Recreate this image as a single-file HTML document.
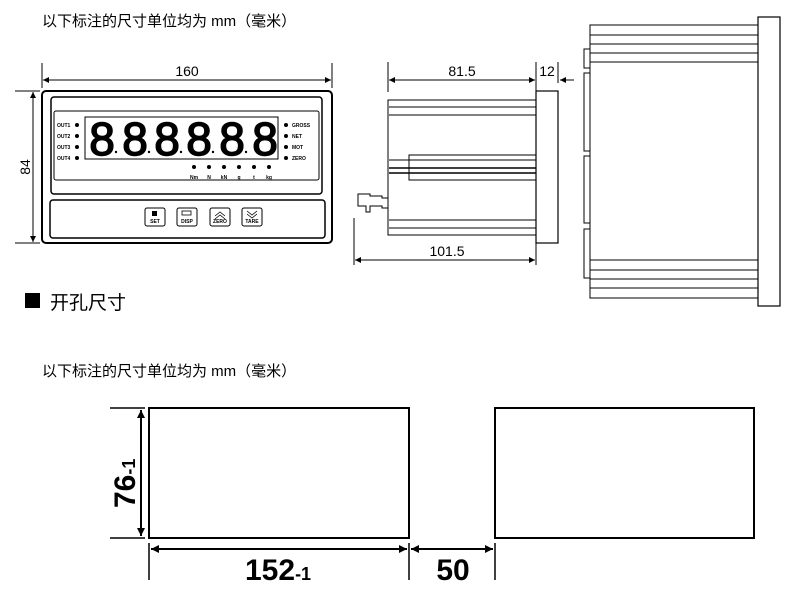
<!DOCTYPE html>
<html><head><meta charset="utf-8"><style>
html,body{margin:0;padding:0;background:#fff;}
svg{display:block;}
.t{font-family:"Liberation Sans","Noto Sans CJK SC",sans-serif;}
</style></head><body>
<svg width="800" height="594" viewBox="0 0 800 594" xmlns="http://www.w3.org/2000/svg">
<defs>
<marker id="a" viewBox="0 0 10 10" refX="10" refY="5" markerWidth="10" markerHeight="6" orient="auto-start-reverse" markerUnits="userSpaceOnUse"><path d="M0,0 L10,5 L0,10 z" fill="#000"/></marker>
<marker id="b" viewBox="0 0 10 10" refX="10" refY="5" markerWidth="14" markerHeight="8" orient="auto-start-reverse" markerUnits="userSpaceOnUse"><path d="M0,0 L10,5 L0,10 z" fill="#000"/></marker>
</defs>
<g class="t" fill="#000">
<text x="42" y="26" font-size="15">以下标注的尺寸单位均为 mm（毫米）</text>
<text x="42" y="376" font-size="15">以下标注的尺寸单位均为 mm（毫米）</text>
<rect x="25" y="293" width="15" height="15"/>
<text x="50" y="309" font-size="19">开孔尺寸</text>
</g>
<g stroke="#000" fill="none" stroke-width="1">
<line x1="42" y1="63" x2="42" y2="88"/><line x1="332" y1="63" x2="332" y2="88"/>
<line x1="43" y1="80" x2="331" y2="80" marker-start="url(#a)" marker-end="url(#a)"/>
<line x1="15" y1="91" x2="40" y2="91"/><line x1="15" y1="243" x2="40" y2="243"/>
<line x1="33" y1="92" x2="33" y2="242" marker-start="url(#a)" marker-end="url(#a)"/>
<rect x="42" y="91" width="290" height="152" rx="4" stroke-width="2"/>
<rect x="51" y="97" width="271" height="97" rx="3" stroke-width="1.5"/>
<rect x="54" y="111" width="265" height="69" rx="2"/>
<rect x="85" y="117" width="193" height="42"/>
<rect x="50" y="200" width="275" height="38" rx="3" stroke-width="1.5"/>
<rect x="145" y="208" width="20" height="18" rx="2"/>
<rect x="177" y="208" width="20" height="18" rx="2"/>
<rect x="210" y="208" width="20" height="18" rx="2"/>
<rect x="242" y="208" width="20" height="18" rx="2"/>
</g>
<g class="t" fill="#000">
<text x="187" y="76" font-size="14" text-anchor="middle">160</text>
<text x="30" y="167" font-size="14" text-anchor="middle" transform="rotate(-90 30 167)">84</text>
<g font-size="5" font-weight="bold">
<text x="57" y="127">OUT1</text><text x="57" y="138">OUT2</text><text x="57" y="149">OUT3</text><text x="57" y="160">OUT4</text>
<text x="292" y="127">GROSS</text><text x="292" y="138">NET</text><text x="292" y="149">MOT</text><text x="292" y="160">ZERO</text>
</g>
<circle cx="77" cy="125" r="2"/><circle cx="77" cy="136" r="2"/><circle cx="77" cy="147" r="2"/><circle cx="77" cy="158" r="2"/>
<circle cx="286" cy="125" r="2"/><circle cx="286" cy="136" r="2"/><circle cx="286" cy="147" r="2"/><circle cx="286" cy="158" r="2"/>
<g font-size="46" text-anchor="middle" font-family="Liberation Sans,sans-serif" stroke="#000" stroke-width="1.5">
<text x="102" y="155">8</text><text x="135" y="155">8</text><text x="167" y="155">8</text><text x="199" y="155">8</text><text x="232" y="155">8</text><text x="265" y="155">8</text>
</g>
<circle cx="116" cy="152" r="1.2"/><circle cx="149" cy="152" r="1.2"/><circle cx="181" cy="152" r="1.2"/><circle cx="213" cy="152" r="1.2"/><circle cx="246" cy="152" r="1.2"/><circle cx="273" cy="152" r="1.2"/>
<circle cx="194" cy="167" r="2"/><circle cx="209" cy="167" r="2"/><circle cx="224" cy="167" r="2"/><circle cx="239" cy="167" r="2"/><circle cx="254" cy="167" r="2"/><circle cx="269" cy="167" r="2"/>
<g font-size="5" font-weight="bold" text-anchor="middle">
<text x="194" y="179">Nm</text><text x="209" y="179">N</text><text x="224" y="179">kN</text><text x="239" y="179">g</text><text x="254" y="179">t</text><text x="269" y="179">kg</text>
<text x="155" y="223">SET</text><text x="187" y="223">DISP</text><text x="220" y="223">ZERO</text><text x="252" y="223">TARE</text>
</g>
<rect x="152" y="211" width="5" height="5"/>
</g>
<g stroke="#000" fill="none" stroke-width="0.8">
<rect x="182" y="211" width="9" height="4"/>
<path d="M215,216 l5,-4 l5,4 M215,219 l5,-4 l5,4"/>
<path d="M247,211 l5,4 l5,-4 M247,214 l5,4 l5,-4"/>
</g>
<g stroke="#000" fill="none" stroke-width="1">
<line x1="388" y1="62" x2="388" y2="92"/><line x1="536" y1="62" x2="536" y2="92"/><line x1="558" y1="62" x2="558" y2="83"/>
<line x1="389" y1="80" x2="535" y2="80" marker-start="url(#a)" marker-end="url(#a)"/>
<line x1="560" y1="80" x2="574" y2="80" marker-start="url(#a)"/>
<rect x="388" y="100" width="148" height="135"/>
<line x1="389" y1="107" x2="536" y2="107"/><line x1="389" y1="115" x2="536" y2="115"/>
<line x1="389" y1="220" x2="536" y2="220"/><line x1="389" y1="228" x2="536" y2="228"/>
<rect x="409" y="155" width="127" height="25"/>
<line x1="389" y1="160" x2="536" y2="160"/><line x1="389" y1="168" x2="536" y2="168" stroke-width="1.5"/><line x1="389" y1="173" x2="536" y2="173" stroke-width="1.5"/>
<rect x="536" y="91" width="22" height="152" stroke-width="1.2"/>
<path d="M388,198 h-6 v-2 h-12 v-2 h-12 v12 h8 v6 h4 v-6 h12 v2 h6"/>
<line x1="354" y1="218" x2="354" y2="265"/><line x1="536" y1="243" x2="536" y2="265"/>
<line x1="355" y1="260" x2="535" y2="260" marker-start="url(#a)" marker-end="url(#a)"/>
<rect x="590" y="25" width="168" height="273"/>
<line x1="590" y1="35" x2="758" y2="35"/><line x1="590" y1="44" x2="758" y2="44"/><line x1="590" y1="53" x2="758" y2="53"/><line x1="590" y1="62" x2="758" y2="62"/>
<line x1="590" y1="260" x2="758" y2="260"/><line x1="590" y1="270" x2="758" y2="270"/><line x1="590" y1="279" x2="758" y2="279"/><line x1="590" y1="288" x2="758" y2="288"/>
<rect x="584" y="49" width="6" height="19"/><rect x="584" y="73" width="6" height="78"/><rect x="584" y="156" width="6" height="67"/><rect x="584" y="229" width="6" height="49"/>
<rect x="758" y="17" width="22" height="289" stroke-width="1.2"/>
</g>
<g class="t" fill="#000" font-size="14" text-anchor="middle">
<text x="462" y="76">81.5</text><text x="547" y="76">12</text><text x="447" y="256">101.5</text>
</g>
<g stroke="#000" fill="none" stroke-width="2">
<rect x="149" y="408" width="260" height="130"/>
<rect x="495" y="408" width="259" height="130"/>
<line x1="110" y1="408" x2="145" y2="408" stroke-width="1.5"/><line x1="110" y1="538" x2="145" y2="538" stroke-width="1.5"/>
<line x1="141" y1="410" x2="141" y2="536" marker-start="url(#b)" marker-end="url(#b)"/>
<line x1="149" y1="543" x2="149" y2="580" stroke-width="1.5"/><line x1="409" y1="543" x2="409" y2="580" stroke-width="1.5"/><line x1="495" y1="543" x2="495" y2="580" stroke-width="1.5"/>
<line x1="151" y1="549" x2="407" y2="549" marker-start="url(#b)" marker-end="url(#b)"/>
<line x1="411" y1="549" x2="493" y2="549" marker-start="url(#b)" marker-end="url(#b)"/>
</g>
<g class="t" fill="#000" font-weight="bold">
<text x="245" y="580" font-size="30">152<tspan font-size="18">-1</tspan></text>
<text x="453" y="580" font-size="30" text-anchor="middle">50</text>
<text x="0" y="0" font-size="30" transform="translate(135,508) rotate(-90)">76<tspan font-size="18">-1</tspan></text>
</g>
</svg>
</body></html>
